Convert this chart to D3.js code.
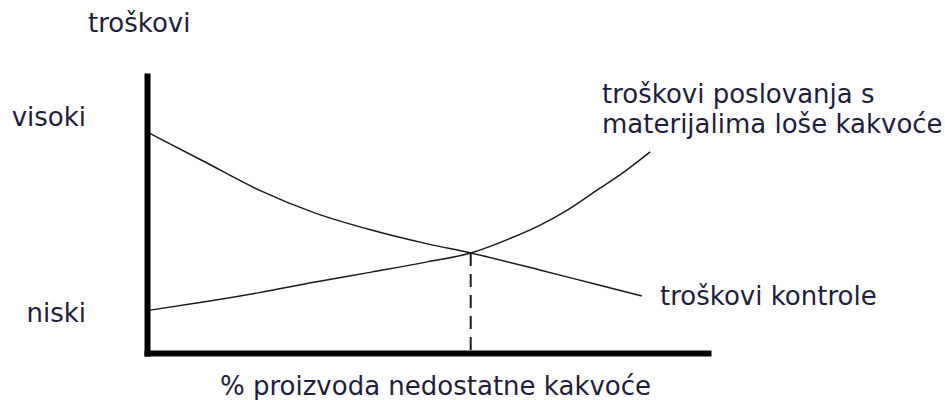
<!DOCTYPE html>
<html>
<head>
<meta charset="utf-8">
<script src="https://cdn.jsdelivr.net/npm/d3@7"></script>
<style>
  body { margin: 0; background: #fff; }
  text { font-family: "DejaVu Sans", sans-serif; fill: #1e1e3c; font-size: 26px; }
  .axis path { stroke: #000; stroke-width: 6; stroke-linecap: square; }
  .curve { fill: none; stroke: #1a1a1a; stroke-width: 1.5; }
</style>
</head>
<body>
<script>
// troškovi kontrole (padaju)
var ctrlX = [0, 10, 20, 30, 40, 50, 57.7, 70, 80, 88.2];
var ctrlY = [79.8, 69.3, 58.8, 50.5, 44.4, 39.4, 36.1, 30.0, 24.8, 20.6];

// troškovi poslovanja s materijalima loše kakvoće (rastu)
var badX = [0, 10, 20, 30, 40, 50, 57.7, 65, 70, 75, 80, 85, 89.7];
var badY = [15.3, 18.4, 21.8, 25.6, 29.2, 32.9, 36.1, 41.6, 46.1, 51.7, 58.5, 65.3, 72.6];

var crossX = 57.7, crossY = 36.1;

var yTicks = [14.3, 85.1];
var yTickLabels = ["niski", "visoki"];

var width = 945, height = 400;

var x = d3.scaleLinear()
  .domain([0, 100])
  .range([147, 708]);

var y = d3.scaleLinear()
  .domain([0, 100])
  .range([353, 76]);

var svg = d3.select("body").append("svg")
    .attr("width", width)
    .attr("height", height);

var line = d3.line()
  .x(function(d) { return x(d[0]); })
  .y(function(d) { return y(d[1]); })
  .curve(d3.curveMonotoneX);

svg.append("path")
  .attr("class", "curve")
  .attr("d", line(d3.zip(ctrlX, ctrlY)));

svg.append("path")
  .attr("class", "curve")
  .attr("d", line(d3.zip(badX, badY)));

// isprekidana linija od sjecista do osi
svg.append("line")
  .attr("x1", x(crossX)).attr("x2", x(crossX))
  .attr("y1", y(crossY)).attr("y2", y(0))
  .attr("stroke", "#1a1a1a")
  .attr("stroke-width", 2)
  .attr("stroke-dasharray", "13,8");

var yAxis = d3.axisLeft(y)
  .tickValues(yTicks)
  .tickFormat(function(d, i) { return yTickLabels[i]; })
  .tickSize(0)
  .tickSizeOuter(0)
  .tickPadding(61);

var xAxis = d3.axisBottom(x)
  .ticks(0)
  .tickSizeOuter(0);

svg.append("g")
  .attr("class", "axis")
  .attr("transform", "translate(" + x(0) + ",0)")
  .call(yAxis)
  .selectAll("text")
    .attr("font-size", null)
    .attr("font-family", null)
    .attr("fill", null);

svg.append("g")
  .attr("class", "axis")
  .attr("transform", "translate(0," + y(0) + ")")
  .call(xAxis);

// natpisi
svg.append("text")
  .attr("x", 88).attr("y", 32)
  .text("troškovi");

svg.append("text")
  .attr("x", 220).attr("y", 395)
  .text("% proizvoda nedostatne kakvoće");

svg.append("text")
  .attr("x", 602).attr("y", 103)
  .text("troškovi poslovanja s");

svg.append("text")
  .attr("x", 602).attr("y", 133)
  .text("materijalima loše kakvoće");

svg.append("text")
  .attr("x", 660).attr("y", 305)
  .text("troškovi kontrole");
</script>
</body>
</html>
